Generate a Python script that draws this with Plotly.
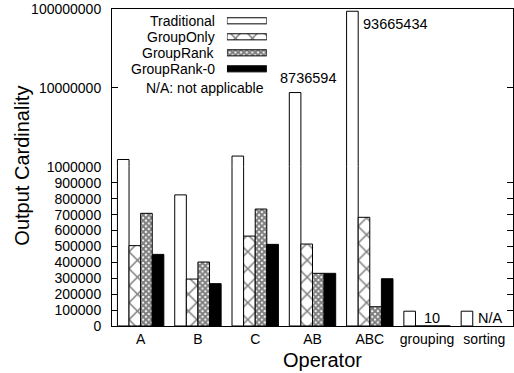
import math
import plotly.graph_objects as go

categories = ["A", "B", "C", "AB", "ABC", "grouping", "sorting"]
series_names = ["Traditional", "GroupOnly", "GroupRank", "GroupRank-0"]
traditional = [1240000, 824000, 1370000, 8736594, 93665434, 93000, 93000]
group_only = [505000, 295000, 565000, 515000, 683000, 10, None]
group_rank = [708000, 402000, 735000, 331000, 121000, 10, None]
group_rank0 = [450000, 266000, 513000, 331000, 297000, 10, None]
lin_ticks = [0, 100000, 200000, 300000, 400000, 500000, 600000, 700000, 800000, 900000, 1000000]
log_ticks = [10000000, 100000000]

FONT = "Liberation Sans, Arial, Helvetica, sans-serif"
series = [traditional, group_only, group_rank, group_rank0]
styles = [
    dict(color="white", line=dict(color="black", width=1)),
    dict(color="white", line=dict(color="black", width=1),
         pattern=dict(shape="x", size=12, solidity=0.24, fgcolor="black", bgcolor="white")),
    dict(color="white", line=dict(color="black", width=1),
         pattern=dict(shape="x", size=4, solidity=0.75, fgcolor="black", bgcolor="white")),
    dict(color="black", line=dict(color="black", width=1)),
]

fig = go.Figure()
for name, vals, st in zip(series_names, series, styles):
    # lower linear part of the broken axis
    fig.add_trace(go.Bar(x=categories, y=vals, name=name, marker=st,
                         xaxis="x", yaxis="y", showlegend=False, hoverinfo="skip"))
    # upper log part of the broken axis
    fig.add_trace(go.Bar(x=categories, y=vals, name=name, marker=st,
                         xaxis="x2", yaxis="y2", showlegend=False, hoverinfo="skip"))

# custom legend keys (text left, sample right, like the original)
for i, (name, st) in enumerate(zip(series_names, styles)):
    fig.add_trace(go.Bar(x=[1], y=[i], orientation="h", marker=st, width=0.38,
                         xaxis="x3", yaxis="y3", showlegend=False, hoverinfo="skip"))
    fig.add_annotation(text=name, xref="paper", yref="y3", x=0.2624, y=i,
                       xanchor="right", yanchor="middle", showarrow=False,
                       font=dict(family=FONT, size=14, color="black"))
fig.add_annotation(text="N/A: not applicable", xref="paper", yref="paper", x=0.385, y=0.750,
                   xanchor="right", yanchor="middle", showarrow=False,
                   font=dict(family=FONT, size=14, color="black"))

# value labels
lab_font = dict(family=FONT, size=14.5, color="black")
fig.add_annotation(text=str(traditional[3]), x=categories[3], y=math.log10(traditional[3]),
                   xref="x2", yref="y2", xshift=-5, yshift=15, showarrow=False, font=lab_font)
fig.add_annotation(text=str(traditional[4]), x=categories[4], y=math.log10(traditional[4]),
                   xref="x2", yref="y2", xshift=26, yshift=-13, showarrow=False, font=lab_font)
fig.add_annotation(text=str(group_only[5]), x=categories[5], y=0,
                   xref="x", yref="y", xshift=5, yshift=8, showarrow=False, font=lab_font)
fig.add_annotation(text="N/A", x=categories[6], y=0,
                   xref="x", yref="y", xshift=6, yshift=8, showarrow=False, font=lab_font)

# axis titles
fig.add_annotation(text="Output Cardinality", xref="paper", yref="paper", x=-0.2235, y=0.507,
                   textangle=-90, showarrow=False, xanchor="center", yanchor="middle",
                   font=dict(family=FONT, size=20, color="black"))
fig.add_annotation(text="Operator", xref="paper", yref="paper", x=0.524, y=-0.107,
                   showarrow=False, xanchor="center", yanchor="middle",
                   font=dict(family=FONT, size=20, color="black"))

tickfont = dict(family=FONT, size=14, color="black")
fig.update_layout(
    width=514, height=373,
    margin=dict(l=112, r=1, t=9, b=47),
    paper_bgcolor="white", plot_bgcolor="white",
    barmode="group", bargap=0.19, bargroupgap=0,
    showlegend=False,
    font=dict(family=FONT, color="black"),
    xaxis=dict(domain=[0, 1], anchor="y", range=[-0.5, 6.5], type="category",
               categoryorder="array", categoryarray=categories,
               showline=True, linecolor="black", linewidth=1, mirror=False,
               ticks="", tickfont=tickfont, ticklabelstandoff=0,
               showgrid=False, zeroline=False),
    xaxis2=dict(domain=[0, 1], anchor="y2", matches="x", side="top", type="category",
                showline=True, linecolor="black", linewidth=1,
                showticklabels=False, ticks="", showgrid=False, zeroline=False),
    yaxis=dict(domain=[0, 0.502], anchor="x", range=[0, 1000000],
               tickvals=lin_ticks, ticktext=[str(v) for v in lin_ticks],
               ticks="inside", ticklen=6, tickcolor="black", ticklabelstandoff=7,
               showline=True, linecolor="black", linewidth=1, mirror="ticks",
               tickfont=tickfont, showgrid=False, zeroline=False),
    yaxis2=dict(domain=[0.502, 1], anchor="x2", type="log", range=[6, 8],
                tickvals=log_ticks, ticktext=[str(v) for v in log_ticks],
                ticks="inside", ticklen=6, tickcolor="black", ticklabelstandoff=7,
                showline=True, linecolor="black", linewidth=1, mirror="ticks",
                tickfont=tickfont, showgrid=False, zeroline=False),
    xaxis3=dict(domain=[0.2866, 0.3862], anchor="y3", range=[0, 1], visible=False, fixedrange=True),
    yaxis3=dict(domain=[0.786, 0.988], anchor="x3", range=[3.5, -0.5], visible=False, fixedrange=True),
)

fig.write_html("out.html")
